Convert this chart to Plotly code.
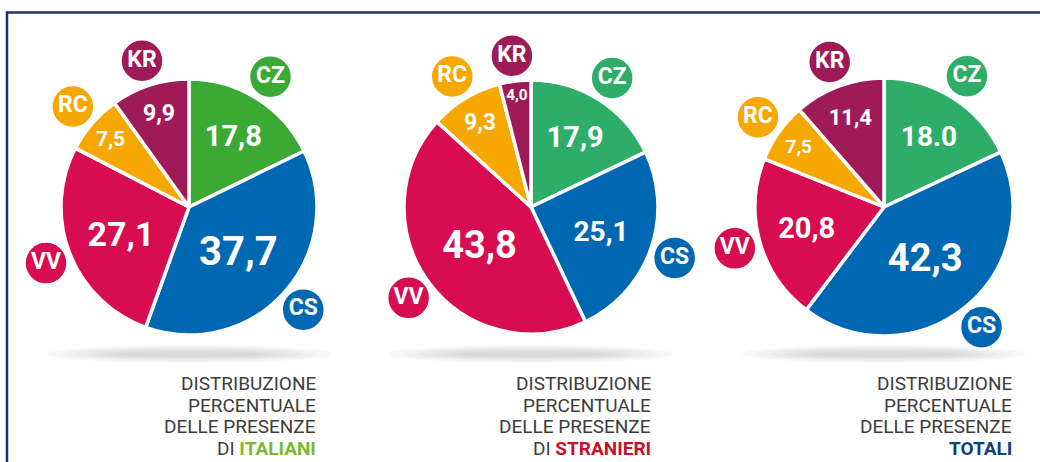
import math
import plotly.graph_objects as go

# ---------------- data ----------------
labels = ["CZ", "CS", "VV", "RC", "KR"]
italiani = [17.8, 37.7, 27.1, 7.5, 9.9]
stranieri = [17.9, 25.1, 43.8, 9.3, 4.0]
totali = [18.0, 42.3, 20.8, 7.5, 11.4]
text_italiani = ["17,8", "37,7", "27,1", "7,5", "9,9"]
text_stranieri = ["17,9", "25,1", "43,8", "9,3", "4,0"]
text_totali = ["18.0", "42,3", "20,8", "7,5", "11,4"]
caption_lines = ["DISTRIBUZIONE", "PERCENTUALE", "DELLE PRESENZE"]
caption_prefix = ["DI ", "DI ", ""]
caption_word = ["ITALIANI", "STRANIERI", "TOTALI"]

# ---------------- styles / layout ----------------
W, H = 1040, 462
NUMFONT = "Roboto, Liberation Sans, sans-serif"
CAPFONT = "Roboto, Liberation Sans, sans-serif"
green1 = "#3BAA35"
green2 = "#2EAD68"
blue = "#0068B2"
crimson = "#D70C51"
orange = "#F6A800"
maroon = "#9E1B58"

pies = [
    dict(values=italiani, text=text_italiani, cx=189, cy=207, r=128,
         colors=[green1, blue, crimson, orange, maroon],
         sizes=[29, 40, 34, 21, 23], cap_right=318, word_color="#7DB92F"),
    dict(values=stranieri, text=text_stranieri, cx=531, cy=207, r=127,
         colors=[green2, blue, crimson, orange, maroon],
         sizes=[29, 28, 38, 23, 20], cap_right=653, word_color="#C8102E"),
    dict(values=totali, text=text_totali, cx=884, cy=207, r=129,
         colors=[green2, blue, crimson, orange, maroon],
         sizes=[28, 38, 29, 19, 22], cap_right=1014, word_color="#123E7A"),
]

fig = go.Figure()
shapes = []
annotations = []

for p in pies:
    cx, cy, r = p["cx"], p["cy"], p["r"]
    # soft shadow under the pie
    for k in range(6):
        shapes.append(dict(type="circle", xref="x", yref="y", layer="below",
                           x0=cx - 142 + k * 14, x1=cx + 142 - k * 14,
                           y0=345 + k * 1.3, y1=363 - k * 1.3,
                           fillcolor="#777777", opacity=0.05, line=dict(width=0)))
    fig.add_trace(go.Pie(
        labels=labels, values=p["values"], text=p["text"],
        textinfo="text", textposition="inside", insidetextorientation="horizontal",
        sort=False, direction="clockwise", rotation=0,
        marker=dict(colors=p["colors"], line=dict(color="white", width=3.5)),
        textfont=dict(family=NUMFONT, size=p["sizes"], color="white", weight="bold"),
        domain=dict(x=[(cx - r) / W, (cx + r) / W],
                    y=[1 - (cy + r) / H, 1 - (cy - r) / H]),
        hoverinfo="skip", showlegend=False,
    ))
    # label bubbles at the mid-angle of each slice
    total = sum(p["values"])
    cum = 0.0
    bx, by = [], []
    for v in p["values"]:
        th = 2 * math.pi * (cum + v / 2) / total
        bx.append(cx + 1.2 * r * math.sin(th))
        by.append(cy - 1.2 * r * math.cos(th))
        cum += v
    fig.add_trace(go.Scatter(
        x=bx, y=by, mode="markers+text", text=labels, textposition="middle center",
        marker=dict(size=42, color=p["colors"], line=dict(color="white", width=1.5)),
        textfont=dict(family=NUMFONT, size=23, color="white", weight="bold"),
        hoverinfo="skip", showlegend=False, xaxis="x", yaxis="y",
    ))

# captions
line_y = [383.5, 405, 426.5, 448]
for i, p in enumerate(pies):
    for j, t in enumerate(caption_lines):
        annotations.append(dict(x=p["cap_right"], y=line_y[j], xref="x", yref="y",
                                text=t, showarrow=False, xanchor="right", yanchor="middle",
                                font=dict(family=CAPFONT, size=19, color="#3d3d3d")))
    last = caption_prefix[i] + "<b><span style='color:%s'>%s</span></b>" % (p["word_color"], caption_word[i])
    annotations.append(dict(x=p["cap_right"], y=line_y[3], xref="x", yref="y",
                            text=last, showarrow=False, xanchor="right", yanchor="middle",
                            font=dict(family=CAPFONT, size=19, color="#3d3d3d")))

# frame lines
shapes.append(dict(type="line", xref="x", yref="y", x0=7, x1=W, y0=12.5, y1=12.5,
                   line=dict(color="#1B3470", width=2.5)))
shapes.append(dict(type="line", xref="x", yref="y", x0=7, x1=7, y0=11.3, y1=H,
                   line=dict(color="#1B3470", width=2.5)))

fig.update_layout(
    width=W, height=H, margin=dict(l=0, r=0, t=0, b=0),
    paper_bgcolor="white", plot_bgcolor="rgba(0,0,0,0)",
    xaxis=dict(range=[0, W], visible=False, fixedrange=True, domain=[0, 1]),
    yaxis=dict(range=[H, 0], visible=False, fixedrange=True, domain=[0, 1]),
    shapes=shapes, annotations=annotations, showlegend=False,
)

fig.write_html("out.html", config={"displayModeBar": False},
               post_script="document.body.style.margin='0';document.body.style.overflow='hidden';")
